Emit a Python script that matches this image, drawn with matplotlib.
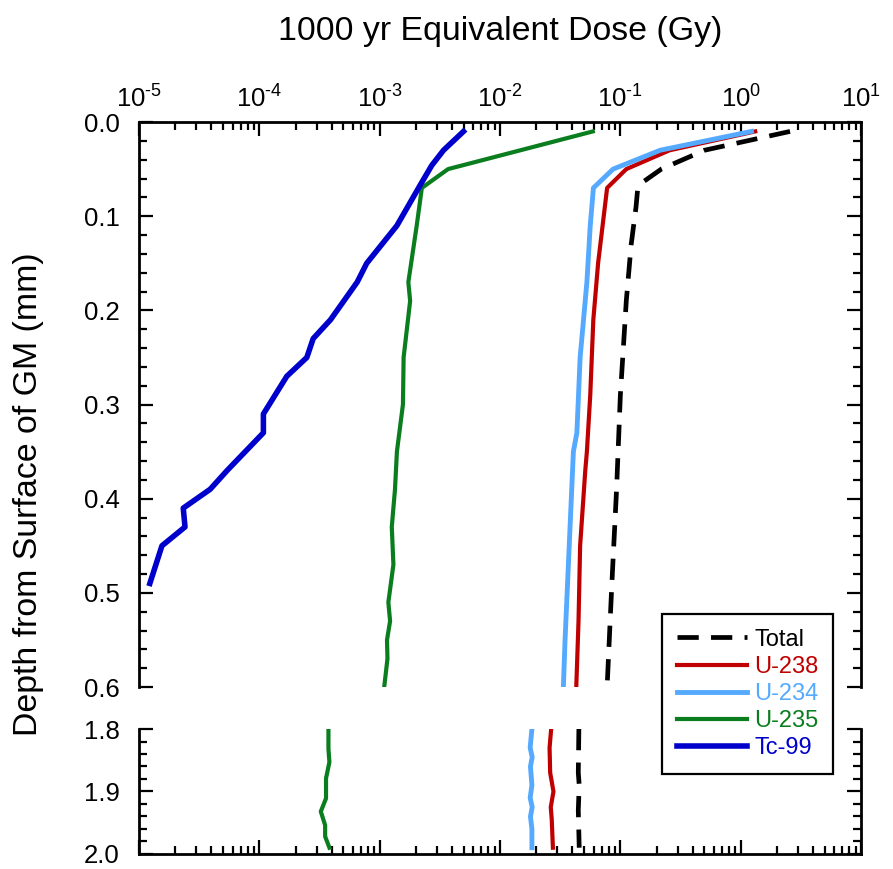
import numpy as np
import matplotlib
matplotlib.use("Agg")
import matplotlib.pyplot as plt
from matplotlib.ticker import LogLocator, MultipleLocator, FormatStrFormatter

plt.rcParams["font.family"] = ["Liberation Sans", "DejaVu Sans"]
plt.rcParams["mathtext.fontset"] = "custom"
plt.rcParams["mathtext.rm"] = "Liberation Sans"

# depth (mm) and 1000 yr equivalent dose (Gy)
tc99_depth = [0.01, 0.03, 0.046, 0.067, 0.11, 0.15, 0.17, 0.21, 0.23, 0.25, 0.27,
              0.31, 0.33, 0.37, 0.39, 0.41, 0.43, 0.45, 0.49]
tc99_dose = [4.97e-3, 3.39e-3, 2.71e-3, 2.17e-3, 1.39e-3, 7.8e-4, 6.5e-4, 3.9e-4,
             2.8e-4, 2.48e-4, 1.69e-4, 1.08e-4, 1.08e-4, 5.4e-5, 3.9e-5, 2.33e-5,
             2.41e-5, 1.55e-5, 1.23e-5]

u235_depth = [0.01, 0.05, 0.07, 0.11, 0.17, 0.19, 0.25, 0.30, 0.35, 0.39, 0.43,
              0.47, 0.51, 0.53, 0.55, 0.57, 0.60]
u235_dose = [0.059, 3.7e-3, 2.24e-3, 2.03e-3, 1.73e-3, 1.79e-3, 1.58e-3, 1.56e-3,
             1.39e-3, 1.34e-3, 1.26e-3, 1.30e-3, 1.18e-3, 1.22e-3, 1.15e-3, 1.16e-3,
             1.09e-3]
u235_depth_deep = [1.80, 1.832, 1.853, 1.879, 1.911, 1.932, 1.954, 1.972, 1.99]
u235_dose_deep = [3.75e-4, 3.75e-4, 3.82e-4, 3.58e-4, 3.58e-4, 3.24e-4, 3.52e-4,
                  3.52e-4, 3.82e-4]

u234_depth = [0.01, 0.03, 0.05, 0.07, 0.11, 0.17, 0.25, 0.29, 0.33, 0.35, 0.55, 0.60]
u234_dose = [1.23, 0.214, 0.087, 0.0597, 0.0562, 0.0527, 0.0463, 0.0449, 0.0435,
             0.0407, 0.0347, 0.0336]
u234_depth_deep = [1.80, 1.83, 1.845, 1.86, 1.89, 1.91, 1.925, 1.94, 1.96, 1.99]
u234_dose_deep = [0.0184, 0.0178, 0.0185, 0.0179, 0.0184, 0.0178, 0.0185, 0.0179,
                  0.0184, 0.0184]

u238_depth = [0.01, 0.03, 0.05, 0.07, 0.15, 0.21, 0.29, 0.35, 0.37, 0.45, 0.53, 0.60]
u238_dose = [1.32, 0.257, 0.112, 0.0776, 0.0653, 0.0596, 0.0562, 0.0527, 0.0511,
             0.0463, 0.0449, 0.043]
u238_depth_deep = [1.80, 1.83, 1.87, 1.90, 1.925, 1.945, 1.99]
u238_dose_deep = [0.0266, 0.0258, 0.0261, 0.0278, 0.0264, 0.0269, 0.0275]

total_depth = [0.01, 0.03, 0.05, 0.064, 0.072, 0.09, 0.13, 0.19, 0.29, 0.39, 0.49, 0.60]
total_dose = [2.57, 0.50, 0.219, 0.153, 0.139, 0.135, 0.123, 0.112, 0.100, 0.093,
              0.085, 0.0776]
total_depth_deep = [1.80, 1.87, 1.89, 1.93, 1.99]
total_dose_deep = [0.0452, 0.0447, 0.0455, 0.0447, 0.0455]

c_total = "black"
c_u238 = "#C00000"
c_u234 = "#55AAFF"
c_u235 = "#0A7E1E"
c_tc99 = "#0000CC"


def sci_label(x, pos):
    # reference prints the exponent with a plain hyphen
    e = int(round(np.log10(x)))
    sign = "\\text{-}" if e < 0 else ""
    return f"$\\mathdefault{{10^{{{sign}{abs(e)}}}}}$"


fig = plt.figure(figsize=(8.93, 8.69), dpi=100)
ax = fig.add_axes([0.1557, 0.2094, 0.8085, 0.6502])
ax2 = fig.add_axes([0.1557, 0.0173, 0.8085, 0.1438])

dash = (0, (4.5, 2.6))
ax.plot(total_dose, total_depth, color=c_total, lw=3.4, linestyle=dash, label="Total")
ax.plot(u238_dose, u238_depth, color=c_u238, lw=3.0, label="U-238")
ax.plot(u234_dose, u234_depth, color=c_u234, lw=3.5, label="U-234")
ax.plot(u235_dose, u235_depth, color=c_u235, lw=3.0, label="U-235")
ax.plot(tc99_dose, tc99_depth, color=c_tc99, lw=4.0, label="Tc-99")

ax2.plot(total_dose_deep, total_depth_deep, color=c_total, lw=3.4, linestyle=dash)
ax2.plot(u238_dose_deep, u238_depth_deep, color=c_u238, lw=3.0)
ax2.plot(u234_dose_deep, u234_depth_deep, color=c_u234, lw=3.5)
ax2.plot(u235_dose_deep, u235_depth_deep, color=c_u235, lw=3.0)

for a in (ax, ax2):
    a.set_xscale("log")
    a.set_xlim(1e-5, 10)
    a.xaxis.set_major_locator(LogLocator(base=10, numticks=20))
    a.xaxis.set_minor_locator(LogLocator(base=10, subs=np.arange(2, 10), numticks=20))
    a.xaxis.set_major_formatter(plt.FuncFormatter(sci_label))
    a.yaxis.set_major_locator(MultipleLocator(0.1))
    a.yaxis.set_minor_locator(MultipleLocator(0.02))
    a.yaxis.set_major_formatter(FormatStrFormatter("%.1f"))
    a.tick_params(which="both", direction="in", width=1.6, labelsize=18.5,
                  left=True, right=True, labelright=False)
    a.tick_params(which="major", length=10)
    a.tick_params(which="minor", length=5.5)
    a.tick_params(axis="y", pad=14)
    for s in a.spines.values():
        s.set_linewidth(2.0)

ax.set_ylim(0.6, 0.0)
ax2.set_ylim(2.0, 1.8)

ax.spines["bottom"].set_visible(False)
ax.tick_params(axis="x", which="both", top=True, bottom=False,
               labeltop=True, labelbottom=False, pad=7)
ax2.spines["top"].set_visible(False)
ax2.tick_params(axis="x", which="both", top=False, bottom=True,
                labeltop=False, labelbottom=False)

fig.text(0.56, 0.964, "1000 yr Equivalent Dose (Gy)", fontsize=24.4,
         ha="center", va="center")
fig.text(0.032, 0.431, "Depth from Surface of GM (mm)", fontsize=24.4,
         ha="center", va="center", rotation=90)

leg = fig.legend(loc="upper left", bbox_to_anchor=(0.7413, 0.2934),
                 fontsize=17, handlelength=3.0, handletextpad=0.3,
                 labelspacing=0.22, borderpad=0.62, borderaxespad=0,
                 fancybox=False, framealpha=1, edgecolor="black",
                 labelcolor="linecolor")
leg.get_frame().set_linewidth(1.6)

fig.savefig("out.png", dpi=100)
